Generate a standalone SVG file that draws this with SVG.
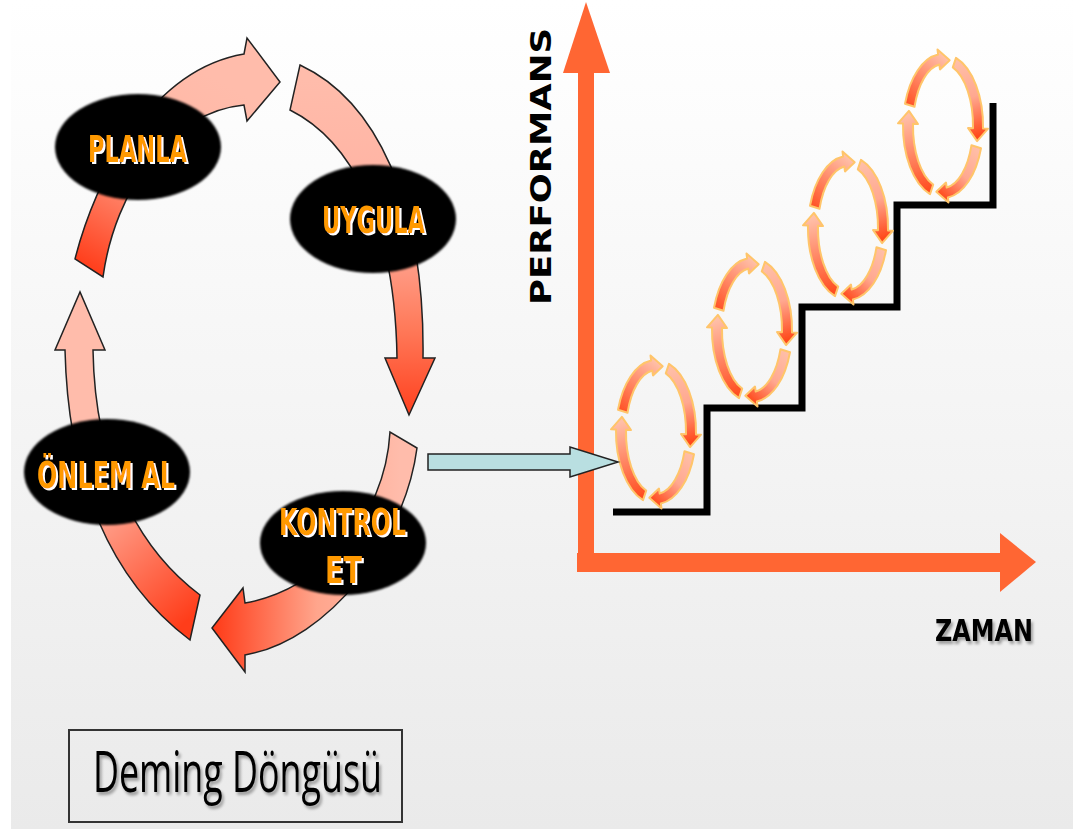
<svg xmlns="http://www.w3.org/2000/svg" xmlns:xlink="http://www.w3.org/1999/xlink" width="1073" height="829" viewBox="0 0 1073 829">
<style>
.bigarrow{stroke:#222;stroke-width:1.5;stroke-linejoin:miter}
.oval{fill:#000;filter:url(#soft)}
.lbl{font-family:"DejaVu Sans","Liberation Sans",sans-serif;font-weight:bold;font-size:38px;fill:#ff9900;filter:url(#wshadow)}
.axis{fill:#ff6633}
.ax{font-family:"DejaVu Sans","Liberation Sans",sans-serif;font-weight:bold;fill:#000}
.rarr{stroke:#ffc56a;stroke-width:2;stroke-linejoin:round}
</style>
<defs>
<linearGradient id="bg" x1="0" y1="0" x2="0" y2="1">
<stop offset="0" stop-color="#ffffff"/>
<stop offset="0.15" stop-color="#fcfcfc"/>
<stop offset="1" stop-color="#eaeaea"/>
</linearGradient>
<linearGradient id="g1" gradientUnits="userSpaceOnUse" x1="90" y1="270" x2="200" y2="70">
<stop offset="0" stop-color="#ff3d1a"/>
<stop offset="0.4" stop-color="#ff8a70"/>
<stop offset="0.7" stop-color="#ffb8a6"/>
<stop offset="1" stop-color="#ffbcab"/>
</linearGradient>
<linearGradient id="g2" gradientUnits="userSpaceOnUse" x1="0" y1="80" x2="0" y2="410">
<stop offset="0" stop-color="#ffbcab"/>
<stop offset="0.45" stop-color="#ffb0a0"/>
<stop offset="0.75" stop-color="#ff7a5a"/>
<stop offset="1" stop-color="#ff4422"/>
</linearGradient>
<linearGradient id="g3" gradientUnits="userSpaceOnUse" x1="400" y1="0" x2="215" y2="0">
<stop offset="0" stop-color="#ffbcab"/>
<stop offset="0.45" stop-color="#ffa58c"/>
<stop offset="1" stop-color="#ff3d1a"/>
</linearGradient>
<linearGradient id="g4" gradientUnits="userSpaceOnUse" x1="90" y1="480" x2="200" y2="610">
<stop offset="0" stop-color="#ffbcab"/>
<stop offset="1" stop-color="#ff3d1a"/>
</linearGradient>
<linearGradient id="rA" gradientUnits="userSpaceOnUse" x1="-35" y1="-15" x2="5" y2="-66">
<stop offset="0" stop-color="#ff4a1c"/><stop offset="1" stop-color="#ffbfa8"/>
</linearGradient>
<linearGradient id="rB" gradientUnits="userSpaceOnUse" x1="13" y1="-65" x2="35" y2="10">
<stop offset="0" stop-color="#ffbfa8"/><stop offset="0.5" stop-color="#ffa890"/><stop offset="1" stop-color="#ff4a1c"/>
</linearGradient>
<linearGradient id="rC" gradientUnits="userSpaceOnUse" x1="35" y1="22" x2="-5" y2="68">
<stop offset="0" stop-color="#ffbfa8"/><stop offset="0.5" stop-color="#ffa890"/><stop offset="1" stop-color="#ff4a1c"/>
</linearGradient>
<linearGradient id="rD" gradientUnits="userSpaceOnUse" x1="-12" y1="66" x2="-35" y2="-10">
<stop offset="0" stop-color="#ff4a1c"/><stop offset="1" stop-color="#ffbfa8"/>
</linearGradient>
<filter id="soft" x="-5%" y="-5%" width="110%" height="110%"><feGaussianBlur stdDeviation="0.8"/></filter>
<filter id="glow" x="-10%" y="-10%" width="120%" height="120%"><feGaussianBlur stdDeviation="0.6"/></filter>
<filter id="wshadow" x="-10%" y="-20%" width="120%" height="150%">
<feFlood flood-color="#ffffff" result="f"/>
<feComposite in="f" in2="SourceAlpha" operator="in" result="w"/>
<feOffset in="w" dx="2" dy="2" result="o"/>
<feMerge><feMergeNode in="o"/><feMergeNode in="SourceGraphic"/></feMerge>
</filter>
<filter id="dshadow" x="-5%" y="-20%" width="115%" height="150%">
<feGaussianBlur in="SourceAlpha" stdDeviation="1.5" result="b"/>
<feOffset in="b" dx="2" dy="3" result="o"/>
<feComponentTransfer in="o" result="s"><feFuncA type="linear" slope="0.35"/></feComponentTransfer>
<feMerge><feMergeNode in="s"/><feMergeNode in="SourceGraphic"/></feMerge>
</filter>
<g id="ring" filter="url(#glow)">
<path class="rarr" fill="url(#rA)" d="M -38.0,-22.2 A 40 72 0 0 1 -4.9,-71.5 L -5.5,-76.4 L 6.7,-65.8 L -3.0,-56.6 L -3.7,-61.5 A 30 62 0 0 0 -28.5,-19.2 Z"/>
<path class="rarr" fill="url(#rB)" d="M 13.0,-68.1 A 40 72 0 0 1 40.0,2.5 L 45.0,2.7 L 34.1,15.1 L 25.0,2.0 L 30.0,2.2 A 30 62 0 0 0 9.8,-58.6 Z"/>
<path class="rarr" fill="url(#rC)" d="M 38.0,22.2 A 40 72 0 0 1 4.9,71.5 L 5.5,76.4 L -6.7,65.8 L 3.0,56.6 L 3.7,61.5 A 30 62 0 0 0 28.5,19.2 Z"/>
<path class="rarr" fill="url(#rD)" d="M -13.0,68.1 A 40 72 0 0 1 -40.0,-2.5 L -45.0,-2.7 L -34.1,-15.1 L -25.0,-2.0 L -30.0,-2.2 A 30 62 0 0 0 -9.8,58.6 Z"/>
</g>
</defs>

<rect x="0" y="0" width="1073" height="829" fill="#ffffff"/>
<rect x="11" y="0" width="1062" height="829" fill="url(#bg)"/>

<g id="connectors">
<path id="arrow-plan" class="bigarrow" fill="url(#g1)" d="M 75,259 C 95,180 150,70 244,54 L 247,38 L 280,82 L 247,121 L 244,105 C 170,112 115,190 103,277 Z"/>
<path id="arrow-do" class="bigarrow" fill="url(#g2)" d="M 300,65 C 375,100 425,200 423,358 L 435,358 L 409,415 L 385,358 L 397,358 C 395,220 350,140 290,110 Z"/>
<path id="arrow-check" class="bigarrow" fill="url(#g3)" d="M 417,448 C 405,540 330,640 245,655 L 245,672 L 212,628 L 243,588 L 245,603 C 320,590 385,520 390,432 Z"/>
<path id="arrow-act" class="bigarrow" fill="url(#g4)" d="M 190,640 C 110,580 68,480 65,350 L 55,350 L 80,292 L 105,350 L 93,350 C 95,470 140,550 200,595 Z"/>
</g>

<g id="node-planla">
<ellipse class="oval" cx="138" cy="147" rx="83" ry="53"/>
<text class="lbl" x="88" y="162" textLength="99" lengthAdjust="spacingAndGlyphs">PLANLA</text>
</g>
<g id="node-uygula">
<ellipse class="oval" cx="373" cy="219" rx="83" ry="54"/>
<text class="lbl" x="322" y="233" textLength="103" lengthAdjust="spacingAndGlyphs">UYGULA</text>
</g>
<g id="node-kontrol">
<ellipse class="oval" cx="343" cy="543" rx="83" ry="52"/>
<text class="lbl" x="279" y="535" textLength="127" lengthAdjust="spacingAndGlyphs">KONTROL</text>
<text class="lbl" x="325" y="583" textLength="37" lengthAdjust="spacingAndGlyphs">ET</text>
</g>
<g id="node-onlem">
<ellipse class="oval" cx="107" cy="472" rx="83" ry="53"/>
<text class="lbl" x="37" y="488" textLength="138" lengthAdjust="spacingAndGlyphs">ÖNLEM AL</text>
</g>

<g id="chart">
<rect class="axis" x="578" y="72" width="16" height="500"/>
<polygon class="axis" points="563,73 586,2 610,73"/>
<rect class="axis" x="577" y="553" width="424" height="19"/>
<polygon class="axis" points="1000,533 1036,562 1000,592"/>
<text class="ax" font-size="28" transform="translate(551,305) rotate(-90)" textLength="277" lengthAdjust="spacingAndGlyphs">PERFORMANS</text>
<text class="ax" font-size="30" x="935" y="641" filter="url(#dshadow)" textLength="98" lengthAdjust="spacingAndGlyphs">ZAMAN</text>
<polyline points="613,512 707,512 707,408 802,408 802,307 897,307 897,205 993,205 993,103" fill="none" stroke="#000" stroke-width="7"/>
<use xlink:href="#ring" href="#ring" transform="translate(656,432)"/>
<use xlink:href="#ring" href="#ring" transform="translate(752,330)"/>
<use xlink:href="#ring" href="#ring" transform="translate(848,228)"/>
<use xlink:href="#ring" href="#ring" transform="translate(943,126)"/>
</g>

<g id="link-arrow">
<polygon points="428,454 570,454 570,447 618,462 570,477 570,470 428,470" fill="#b9dfe1" stroke="#222" stroke-width="1.5"/>
</g>

<g id="title">
<rect x="69" y="730" width="333" height="92" fill="none" stroke="#333" stroke-width="2"/>
<text x="93" y="792" font-family="Open Sans,DejaVu Sans,sans-serif" font-size="56" fill="#000" filter="url(#dshadow)" textLength="289" lengthAdjust="spacingAndGlyphs">Deming Döngüsü</text>
</g>
</svg>
